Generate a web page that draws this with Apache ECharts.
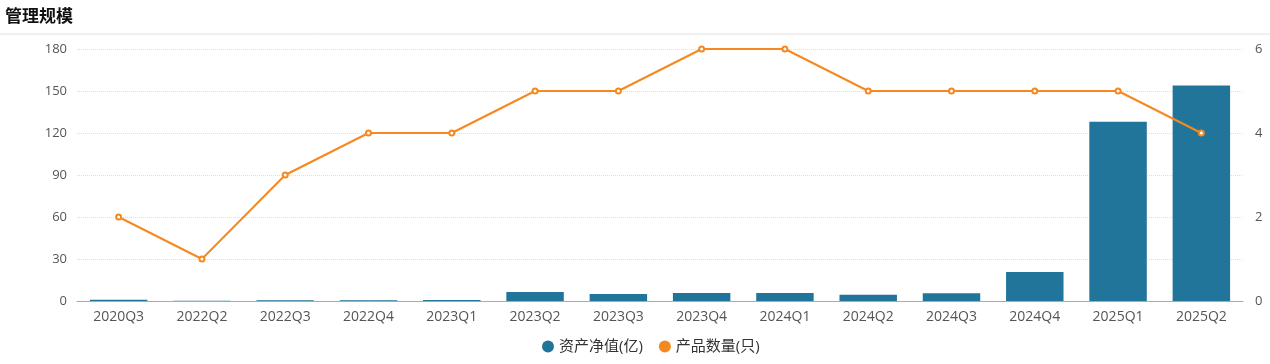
<!DOCTYPE html>
<html><head><meta charset="utf-8">
<script src="https://cdn.jsdelivr.net/npm/echarts@6/dist/echarts.min.js"></script>
<style>html,body{margin:0;padding:0;background:#fff}#c{width:1270px;height:364px}</style>
</head><body><div id="c"></div>
<script>
const categories = ['2020Q3','2022Q2','2022Q3','2022Q4','2023Q1','2023Q2','2023Q3','2023Q4','2024Q1','2024Q2','2024Q3','2024Q4','2025Q1','2025Q2'];
const netAssets = [0.9, 0.2, 0.6, 0.6, 0.8, 6.4, 5.0, 5.7, 5.8, 4.5, 5.6, 20.7, 128, 154];
const productCount = [2, 1, 3, 4, 4, 5, 5, 6, 6, 5, 5, 5, 5, 4];
const leftTicks = {min: 0, max: 180, interval: 30};
const rightTicks = {min: 0, max: 6, interval: 2};

const chart = echarts.init(document.getElementById('c'));
const font = '"Open Sans", "Noto Sans CJK SC", sans-serif';
chart.setOption({
  textStyle: {fontFamily: font},
  title: {text: '管理规模', left: 0, top: 2, textStyle: {fontSize: 17, fontWeight: 'bold', color: '#111', fontFamily: '"Noto Sans CJK SC", sans-serif'}},
  graphic: [{type: 'line', shape: {x1: 0, y1: 34, x2: 1270, y2: 34}, style: {stroke: '#e2e2e2', lineWidth: 1}}],
  grid: {left: 77, right: 27, top: 49, bottom: 63},
  legend: {bottom: 5, left: 537, itemWidth: 12, itemHeight: 12, itemGap: 16, icon: 'circle',
    textStyle: {fontSize: 15, color: '#333', fontFamily: font}, data: ['资产净值(亿)', '产品数量(只)']},
  xAxis: {type: 'category', data: categories,
    axisLine: {lineStyle: {color: '#aaa'}}, axisTick: {lineStyle: {color: '#aaa'}, length: 5},
    axisLabel: {color: '#555', fontSize: 14, margin: 9, fontFamily: font}},
  yAxis: [
    {type: 'value', min: leftTicks.min, max: leftTicks.max, interval: leftTicks.interval,
      axisLine: {show: false}, axisTick: {show: false},
      axisLabel: {color: '#555', fontSize: 13, margin: 10, fontFamily: font},
      splitLine: {lineStyle: {type: 'dotted', color: '#ddd'}}},
    {type: 'value', min: rightTicks.min, max: rightTicks.max, interval: rightTicks.interval,
      axisLine: {show: false}, axisTick: {show: false},
      axisLabel: {color: '#555', fontSize: 13, margin: 12, fontFamily: font},
      splitLine: {lineStyle: {type: 'dotted', color: '#ddd'}}}
  ],
  series: [
    {name: '资产净值(亿)', type: 'bar', data: netAssets, barWidth: '69%', itemStyle: {color: '#21759b'}},
    {name: '产品数量(只)', type: 'line', yAxisIndex: 1, data: productCount, symbol: 'emptyCircle', symbolSize: 5,
      itemStyle: {color: '#f5891f'}, lineStyle: {color: '#f5891f', width: 2}}
  ]
});
</script></body></html>
